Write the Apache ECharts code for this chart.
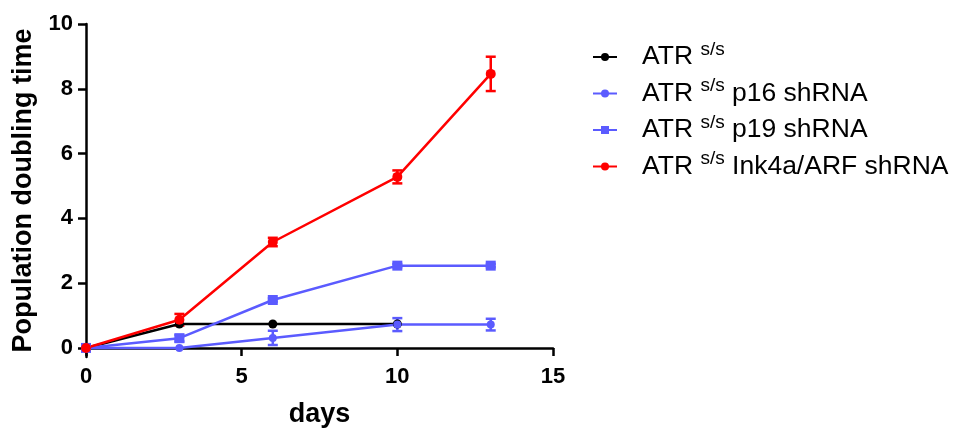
<!DOCTYPE html>
<html>
<head>
<meta charset="utf-8">
<script src="https://cdn.jsdelivr.net/npm/echarts@6/dist/echarts.min.js"></script>
<style>
  html, body { margin: 0; padding: 0; background: #fff; }
</style>
</head>
<body>
<div id="myChart" style="width: 956px; height: 430px;"></div>
<script>
// data
const days = [0, 3, 6, 10, 13];
const seriesNames = ['ATR s/s', 'ATR s/s p16 shRNA', 'ATR s/s p19 shRNA', 'ATR s/s Ink4a/ARF shRNA'];
const atrVals = [0, 0.74, 0.74, 0.74, null];
const atrErr = [0, 0, 0, 0, null];
const p16Vals = [0, 0, 0.31, 0.72, 0.72];
const p16Err = [0, 0, 0.22, 0.2, 0.18];
const p19Vals = [0, 0.3, 1.48, 2.54, 2.54];
const p19Err = [0, 0.1, 0.05, 0.05, 0.05];
const inkVals = [0, 0.87, 3.27, 5.28, 8.46];
const inkErr = [0, 0.18, 0.13, 0.2, 0.53];
const xTicks = [0, 5, 10, 15];
const yTicks = [0, 2, 4, 6, 8, 10];

const BLUE = '#5b5bff';
const RED = '#ff0000';
const FONT = 'Liberation Sans, Arial, sans-serif';

function points(vals) {
  return days.map((d, i) => vals[i] == null ? null : [d, vals[i]]).filter(p => p);
}
function errBars(vals, errs) {
  return days.map((d, i) => (vals[i] == null || !errs[i]) ? null : [d, vals[i] - errs[i], vals[i] + errs[i]]).filter(p => p);
}

function errSeries(vals, errs, color) {
  return {
    type: 'custom',
    silent: true,
    renderItem: function (params, api) {
      const lo = api.coord([api.value(0), api.value(1)]);
      const hi = api.coord([api.value(0), api.value(2)]);
      const w = 5;
      const style = { stroke: color, lineWidth: 2.5 };
      return {
        type: 'group',
        children: [
          { type: 'line', shape: { x1: lo[0], y1: lo[1], x2: hi[0], y2: hi[1] }, style: style },
          { type: 'line', shape: { x1: lo[0] - w, y1: lo[1], x2: lo[0] + w, y2: lo[1] }, style: style },
          { type: 'line', shape: { x1: hi[0] - w, y1: hi[1], x2: hi[0] + w, y2: hi[1] }, style: style }
        ]
      };
    },
    encode: { x: 0, y: [1, 2] },
    data: errBars(vals, errs),
    z: 3
  };
}

function lineSeries(name, vals, color, symbol, size) {
  return {
    name: name,
    type: 'line',
    data: points(vals),
    symbol: symbol,
    symbolSize: size,
    itemStyle: { color: color },
    lineStyle: { color: color, width: 2.5 },
    z: 4
  };
}

const myChart = echarts.init(document.getElementById('myChart'));
myChart.setOption({
  backgroundColor: '#fff',
  animation: false,
  grid: { left: 86, top: 24, width: 467, height: 333, outerBoundsMode: 'none', containLabel: false },
  legend: {
    orient: 'vertical',
    left: 587,
    top: 35,
    itemGap: 6,
    itemWidth: 24,
    itemHeight: 10,
    data: seriesNames,
    formatter: function (name) {
      return name.replace('s/s', '{sup|s/s}');
    },
    textStyle: {
      fontFamily: FONT,
      fontSize: 26.5,
      color: '#000',
      padding: [0, 0, 0, 20],
      rich: {
        sup: { fontFamily: FONT, fontSize: 19, color: '#000', padding: [0, 0, 15, 0] }
      }
    }
  },
  xAxis: {
    type: 'value',
    min: 0,
    max: 15,
    interval: 5,
    name: 'days',
    nameLocation: 'middle',
    nameGap: 44,
    nameTextStyle: { fontFamily: FONT, fontSize: 27, fontWeight: 'bold', color: '#000' },
    axisLine: { onZero: true, lineStyle: { color: '#000', width: 2.5 } },
    axisTick: { length: 8, lineStyle: { color: '#000', width: 2.5 } },
    axisLabel: { fontFamily: FONT, fontSize: 22, fontWeight: 'bold', color: '#000', margin: 9 },
    splitLine: { show: false }
  },
  yAxis: {
    type: 'value',
    min: -0.28,
    max: 10,
    name: 'Population doubling time',
    nameLocation: 'middle',
    nameGap: 49,
    nameTextStyle: { fontFamily: FONT, fontSize: 27, fontWeight: 'bold', color: '#000' },
    axisLine: { show: true, lineStyle: { color: '#000', width: 2.5 } },
    axisTick: { show: true, length: 8, customValues: yTicks, lineStyle: { color: '#000', width: 2.5 } },
    axisLabel: { fontFamily: FONT, fontSize: 22, fontWeight: 'bold', color: '#000', margin: 13, customValues: yTicks },
    splitLine: { show: false }
  },
  series: [
    lineSeries(seriesNames[0], atrVals, '#000', 'circle', 9),
    lineSeries(seriesNames[1], p16Vals, BLUE, 'circle', 8),
    errSeries(p16Vals, p16Err, BLUE),
    lineSeries(seriesNames[2], p19Vals, BLUE, 'rect', 10),
    errSeries(p19Vals, p19Err, BLUE),
    lineSeries(seriesNames[3], inkVals, RED, 'circle', 10),
    errSeries(inkVals, inkErr, RED)
  ]
});
</script>
</body>
</html>
